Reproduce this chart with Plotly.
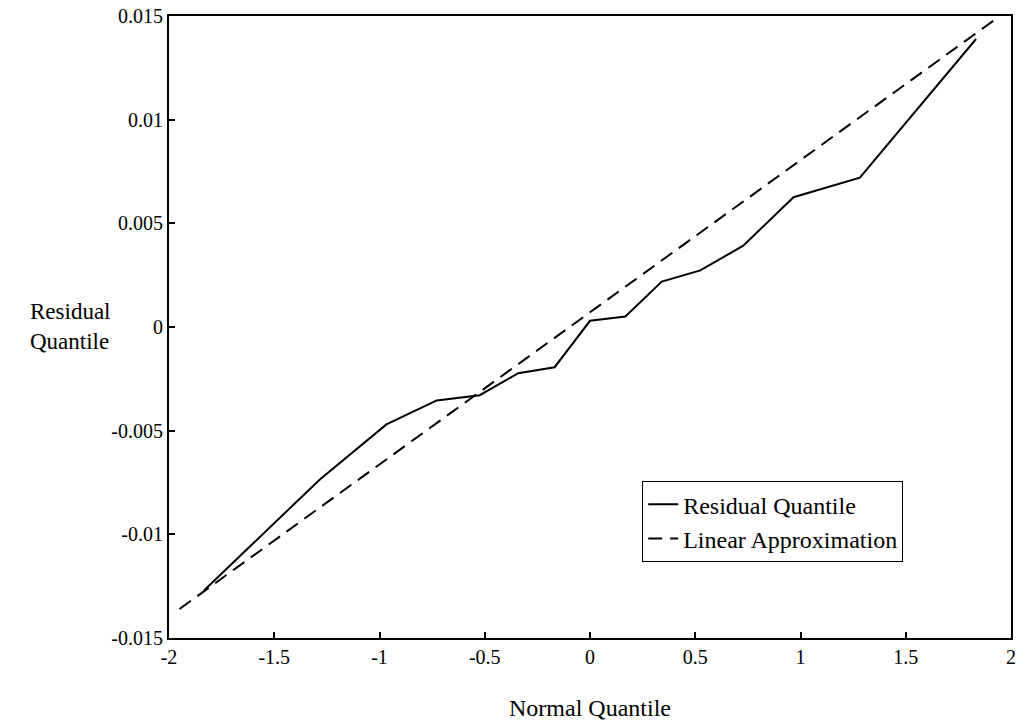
import plotly.graph_objects as go

# normal quantiles and residual quantiles
normal_q = [-1.834, -1.282, -0.967, -0.728, -0.524, -0.341, -0.168, 0.0,
            0.168, 0.341, 0.524, 0.728, 0.967, 1.282, 1.834]
residual_q = [-0.01271, -0.00734, -0.00470, -0.00354, -0.00329, -0.00223, -0.00194, 0.00030,
              0.00051, 0.00219, 0.00273, 0.00392, 0.00626, 0.00720, 0.01389]

# linear approximation end points
lin_x = [-1.95, 1.92]
lin_y = [-0.0136, 0.0148]

x_ticks = [-2, -1.5, -1, -0.5, 0, 0.5, 1, 1.5, 2]
x_labels = ["-2", "-1.5", "-1", "-0.5", "0", "0.5", "1", "1.5", "2"]
y_ticks = [-0.015, -0.01, -0.005, 0, 0.005, 0.01, 0.015]
y_labels = ["-0.015", "-0.01", "-0.005", "0", "0.005", "0.01", "0.015"]

FONT = "Liberation Serif, Times New Roman, serif"

fig = go.Figure()
fig.add_trace(go.Scatter(x=normal_q, y=residual_q, mode="lines", name="Residual Quantile",
                         line=dict(color="black", width=2)))
fig.add_trace(go.Scatter(x=lin_x, y=lin_y, mode="lines", name="Linear Approximation",
                         line=dict(color="black", width=2, dash="14px,8px")))

axis_common = dict(showgrid=False, zeroline=False, showline=True, linecolor="black",
                   linewidth=2, mirror=True, ticks="inside", ticklen=6, tickwidth=2,
                   tickcolor="black", ticklabeloverflow="allow",
                   tickfont=dict(family=FONT, size=20, color="black"))

fig.update_xaxes(range=[-2, 2], tickvals=x_ticks, ticktext=x_labels, **axis_common)
fig.update_yaxes(range=[-0.015, 0.015], tickvals=y_ticks, ticktext=y_labels, **axis_common)

fig.add_annotation(text="Residual<br>Quantile", xref="paper", yref="paper",
                   x=-0.168, y=0.501, xanchor="left", yanchor="middle", align="left",
                   showarrow=False, font=dict(family=FONT, size=23, color="black"))
fig.add_annotation(text="Normal Quantile", xref="paper", yref="paper",
                   x=0.5, y=-0.112, xanchor="center", yanchor="middle",
                   showarrow=False, font=dict(family=FONT, size=24, color="black"))

fig.update_layout(
    width=1021, height=725,
    margin=dict(l=168.5, r=4.5, t=9, b=87.3),
    paper_bgcolor="white", plot_bgcolor="white",
    font=dict(family=FONT, color="black"),
    legend=dict(x=0.562, y=0.252, xanchor="left", yanchor="top",
                bordercolor="black", borderwidth=1, bgcolor="white",
                font=dict(family=FONT, size=24, color="black"),
                tracegroupgap=0),
)

# pin the graph to the window's top-left corner (no body margin, no page overflow)
pin = ("document.body.style.margin='0';"
       "var gd=document.getElementById('{plot_id}');"
       "gd.style.position='fixed';gd.style.left='0';gd.style.top='0';")
fig.write_html("out.html", config={"displayModeBar": False}, post_script=pin)
